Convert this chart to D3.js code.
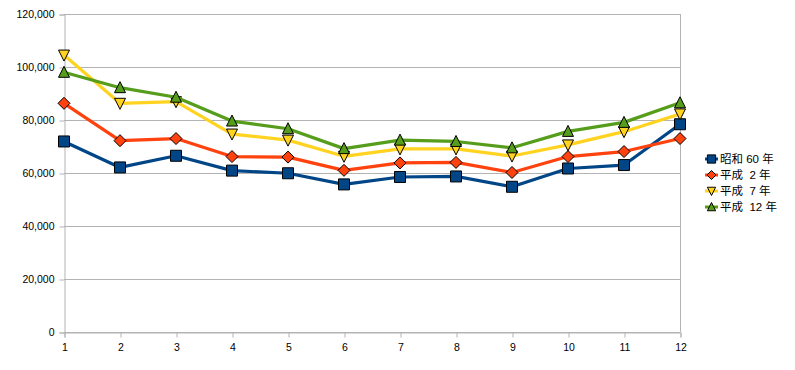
<!DOCTYPE html>
<html>
<head>
<meta charset="utf-8">
<script src="https://cdn.jsdelivr.net/npm/d3@7"></script>
<style>
  body { margin: 0; background: #fff; }
  text { font-family: "Liberation Sans", Arial, "Noto Sans CJK JP", sans-serif; }
</style>
</head>
<body>
<svg width="795" height="370"></svg>
<script>
const months = [1, 2, 3, 4, 5, 6, 7, 8, 9, 10, 11, 12];
const yTicks = [0, 20000, 40000, 60000, 80000, 100000, 120000];

const seriesNames = ["昭和 60 年", "平成  2 年", "平成  7 年", "平成  12 年"];
const showa60 = [71900, 62100, 66500, 60900, 59900, 55700, 58500, 58700, 54800, 61700, 63000, 78400];
const heisei2 = [86300, 72200, 73000, 66200, 66000, 61000, 63800, 64000, 60200, 66200, 68100, 73000];
const heisei7 = [104500, 86300, 86900, 74700, 72400, 66300, 69100, 69100, 66400, 70600, 75600, 82300];
const heisei12 = [98000, 92200, 88600, 79600, 76700, 69200, 72400, 71900, 69500, 75700, 79100, 86500];

const colors = ["#004586", "#ff420e", "#ffd320", "#579d1c"];
const symbols = ["square", "diamond", "down", "up"];
const allSeries = [showa60, heisei2, heisei7, heisei12];

const svg = d3.select("svg");
const plotLeft = 64, plotRight = 680, plotTop = 14, plotBottom = 332;

const x = d3.scaleLinear().domain([1, 12]).range([plotLeft, plotRight]);
const y = d3.scaleLinear().domain([0, 120000]).range([plotBottom, plotTop]);
const fmt = d3.format(",");

// grid
svg.append("g")
  .selectAll("line")
  .data(yTicks)
  .enter()
  .append("line")
  .attr("x1", plotLeft).attr("x2", plotRight)
  .attr("y1", d => y(d) + 0.5).attr("y2", d => y(d) + 0.5)
  .attr("stroke", "#b3b3b3");

// right border
svg.append("line")
  .attr("x1", plotRight + 0.5).attr("x2", plotRight + 0.5)
  .attr("y1", plotTop).attr("y2", plotBottom)
  .attr("stroke", "#b3b3b3");

// y axis
const yAxis = svg.append("g")
  .attr("transform", `translate(${plotLeft + 0.5},0.5)`)
  .call(d3.axisLeft(y).tickValues(yTicks).tickFormat(fmt).tickSize(5).tickPadding(5));
yAxis.select(".domain").attr("stroke", "#b3b3b3");
yAxis.selectAll(".tick line").attr("stroke", "#b3b3b3");
yAxis.selectAll("text").attr("font-size", "10.5px").attr("fill", "#000")
  .style("font-family", "'Liberation Sans', Arial, sans-serif");

// x axis
const xAxis = svg.append("g")
  .attr("transform", `translate(0.5,${plotBottom + 0.5})`)
  .call(d3.axisBottom(x).tickValues(months).tickFormat(d3.format("d")).tickSize(5).tickPadding(6));
xAxis.select(".domain").attr("stroke", "#b3b3b3");
xAxis.selectAll(".tick line").attr("stroke", "#b3b3b3");
xAxis.selectAll("text").attr("font-size", "10.5px").attr("fill", "#000")
  .style("font-family", "'Liberation Sans', Arial, sans-serif");

// marker shapes
function markerPath(type) {
  if (type === "square") return "M-5.5,-5.5H5.5V5.5H-5.5Z";
  if (type === "diamond") return "M0,-6L6,0L0,6L-6,0Z";
  if (type === "down") return "M-5.5,-5L5.5,-5L0,6Z";
  return "M0,-6L5.5,5L-5.5,5Z";
}

const line = d3.line()
  .x((d, i) => x(months[i]))
  .y(d => y(d));

allSeries.forEach((vals, k) => {
  const g = svg.append("g");
  g.append("path")
    .datum(vals)
    .attr("d", line)
    .attr("fill", "none")
    .attr("stroke", colors[k])
    .attr("stroke-width", 3.2)
    .attr("stroke-linejoin", "round");
  g.selectAll("path.m")
    .data(vals)
    .enter()
    .append("path")
    .attr("class", "m")
    .attr("transform", (d, i) => `translate(${x(months[i])},${y(d)})`)
    .attr("d", markerPath(symbols[k]))
    .attr("fill", colors[k])
    .attr("stroke", "#000")
    .attr("stroke-width", 1);
});

// legend
const legend = svg.append("g").attr("transform", "translate(705,159)");
seriesNames.forEach((name, k) => {
  const row = legend.append("g").attr("transform", `translate(0,${k * 16})`);
  row.append("line")
    .attr("x1", 0).attr("x2", 13)
    .attr("y1", 0).attr("y2", 0)
    .attr("stroke", colors[k]).attr("stroke-width", 3);
  row.append("path")
    .attr("transform", "translate(6.5,0) scale(0.75)")
    .attr("d", markerPath(symbols[k]))
    .attr("fill", colors[k])
    .attr("stroke", "#000")
    .attr("stroke-width", 1.3);
  row.append("text")
    .attr("x", 15)
    .attr("y", 4)
    .attr("font-size", "11.5px")
    .attr("fill", "#000")
    .style("white-space", "pre")
    .style("font-family", "'Liberation Sans', 'Noto Sans CJK JP', sans-serif")
    .text(name);
});
</script>
</body>
</html>
